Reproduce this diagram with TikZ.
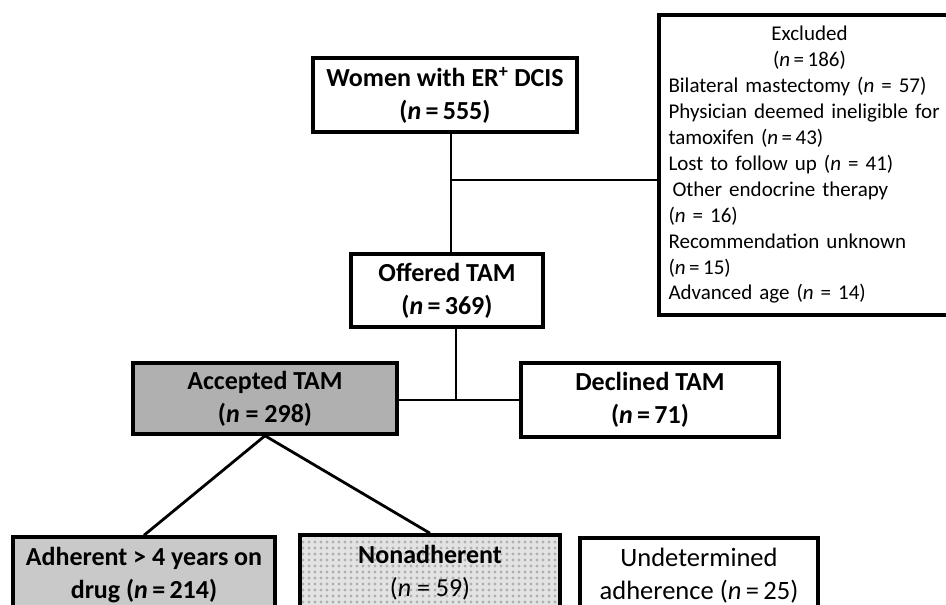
\documentclass[tikz,border=0pt]{standalone}
\usepackage{fontspec}
\setmainfont{Carlito}
\usetikzlibrary{patterns.meta}
\tikzdeclarepattern{
  name=ginghamdots, type=uncolored,
  bottom left={(-.1pt,-.1pt)}, top right={(6.1pt,6.1pt)}, tile size={(6pt,6pt)},
  code={\fill (3pt,3pt) circle (1.7pt);}
}
\tikzset{
  box/.style={draw, line width=3.5pt, align=center, inner sep=0pt, fill=white},
  bigtext/.style={font=\fontsize{26}{33}\selectfont\bfseries},
  regtext/.style={font=\fontsize{26.5}{33}\selectfont},
  smalltext/.style={font=\fontsize{21}{25.9}\selectfont},
  conn/.style={line width=2.8pt}
}
\newcommand{\nn}{\textit{n}}
\newcommand{\eqt}{\,=\,}
\begin{document}
\begin{tikzpicture}[x=1pt,y=-1pt]
\useasboundingbox (0,0) rectangle (946,605);
\clip (0,0) rectangle (946,605);
% nodes
\node[box,bigtext,minimum width=264pt,minimum height=74pt] (women) at (445,95)
  {Women with ER\textsuperscript{+} DCIS\\(\nn\eqt555)};
\node[box,bigtext,minimum width=192pt,minimum height=73pt] (offered) at (447,290.5)
  {Offered TAM\\(\nn\eqt369)};
\node[box,smalltext,minimum width=301pt,minimum height=300pt,text width=282pt,align=left] (excl) at (809.5,165)
  {\makebox[282pt][c]{Excluded}\\
   \makebox[282pt][c]{(\nn\eqt186)}\\
   Bilateral mastectomy (\nn{} = 57)\\
   Physician deemed ineligible for\\
   tamoxifen (\nn\eqt43)\\
   Lost to follow up (\nn{} = 41)\\
   \hspace*{4pt}Other endocrine therapy\\
   (\nn{} = 16)\\
   Recommendation unknown\\
   (\nn\eqt15)\\
   Advanced age (\nn{} = 14)};
\node[box,bigtext,fill=gray!62,minimum width=264pt,minimum height=71pt] (accepted) at (265,398.5)
  {Accepted TAM\\(\nn{} = 298)};
\node[box,bigtext,minimum width=258pt,minimum height=74pt] (declined) at (650,400)
  {Declined TAM\\(\nn\eqt71)};
\node[box,bigtext,fill=gray!42,minimum width=262pt,minimum height=76pt] (adherent) at (144,575)
  {Adherent \textgreater{} 4 years on\\drug (\nn\eqt214)};
\node[box,bigtext,preaction={fill=gray!22},pattern={ginghamdots},pattern color=gray!62,minimum width=260pt,minimum height=76pt] (nonadh) at (430,573)
  {Nonadherent\\{\mdseries(\nn{} = 59)}};
\node[box,regtext,minimum width=238pt,minimum height=76pt] (undet) at (699,576)
  {Undetermined\\adherence (\nn\eqt25)};
% connectors
\coordinate (j1) at (451,180);
\coordinate (j2) at (456,400);
\draw[conn] (j1 |- women.south) -- (j1 |- offered.north);
\draw[conn] (j1) -- (excl.west |- j1);
\draw[conn] (j2 |- offered.south) -- (j2);
\draw[conn] (accepted.east |- j2) -- (declined.west |- j2);
\draw[conn] (accepted.south) -- (adherent.north);
\draw[conn] (accepted.south) -- (nonadh.north);
\end{tikzpicture}
\end{document}
